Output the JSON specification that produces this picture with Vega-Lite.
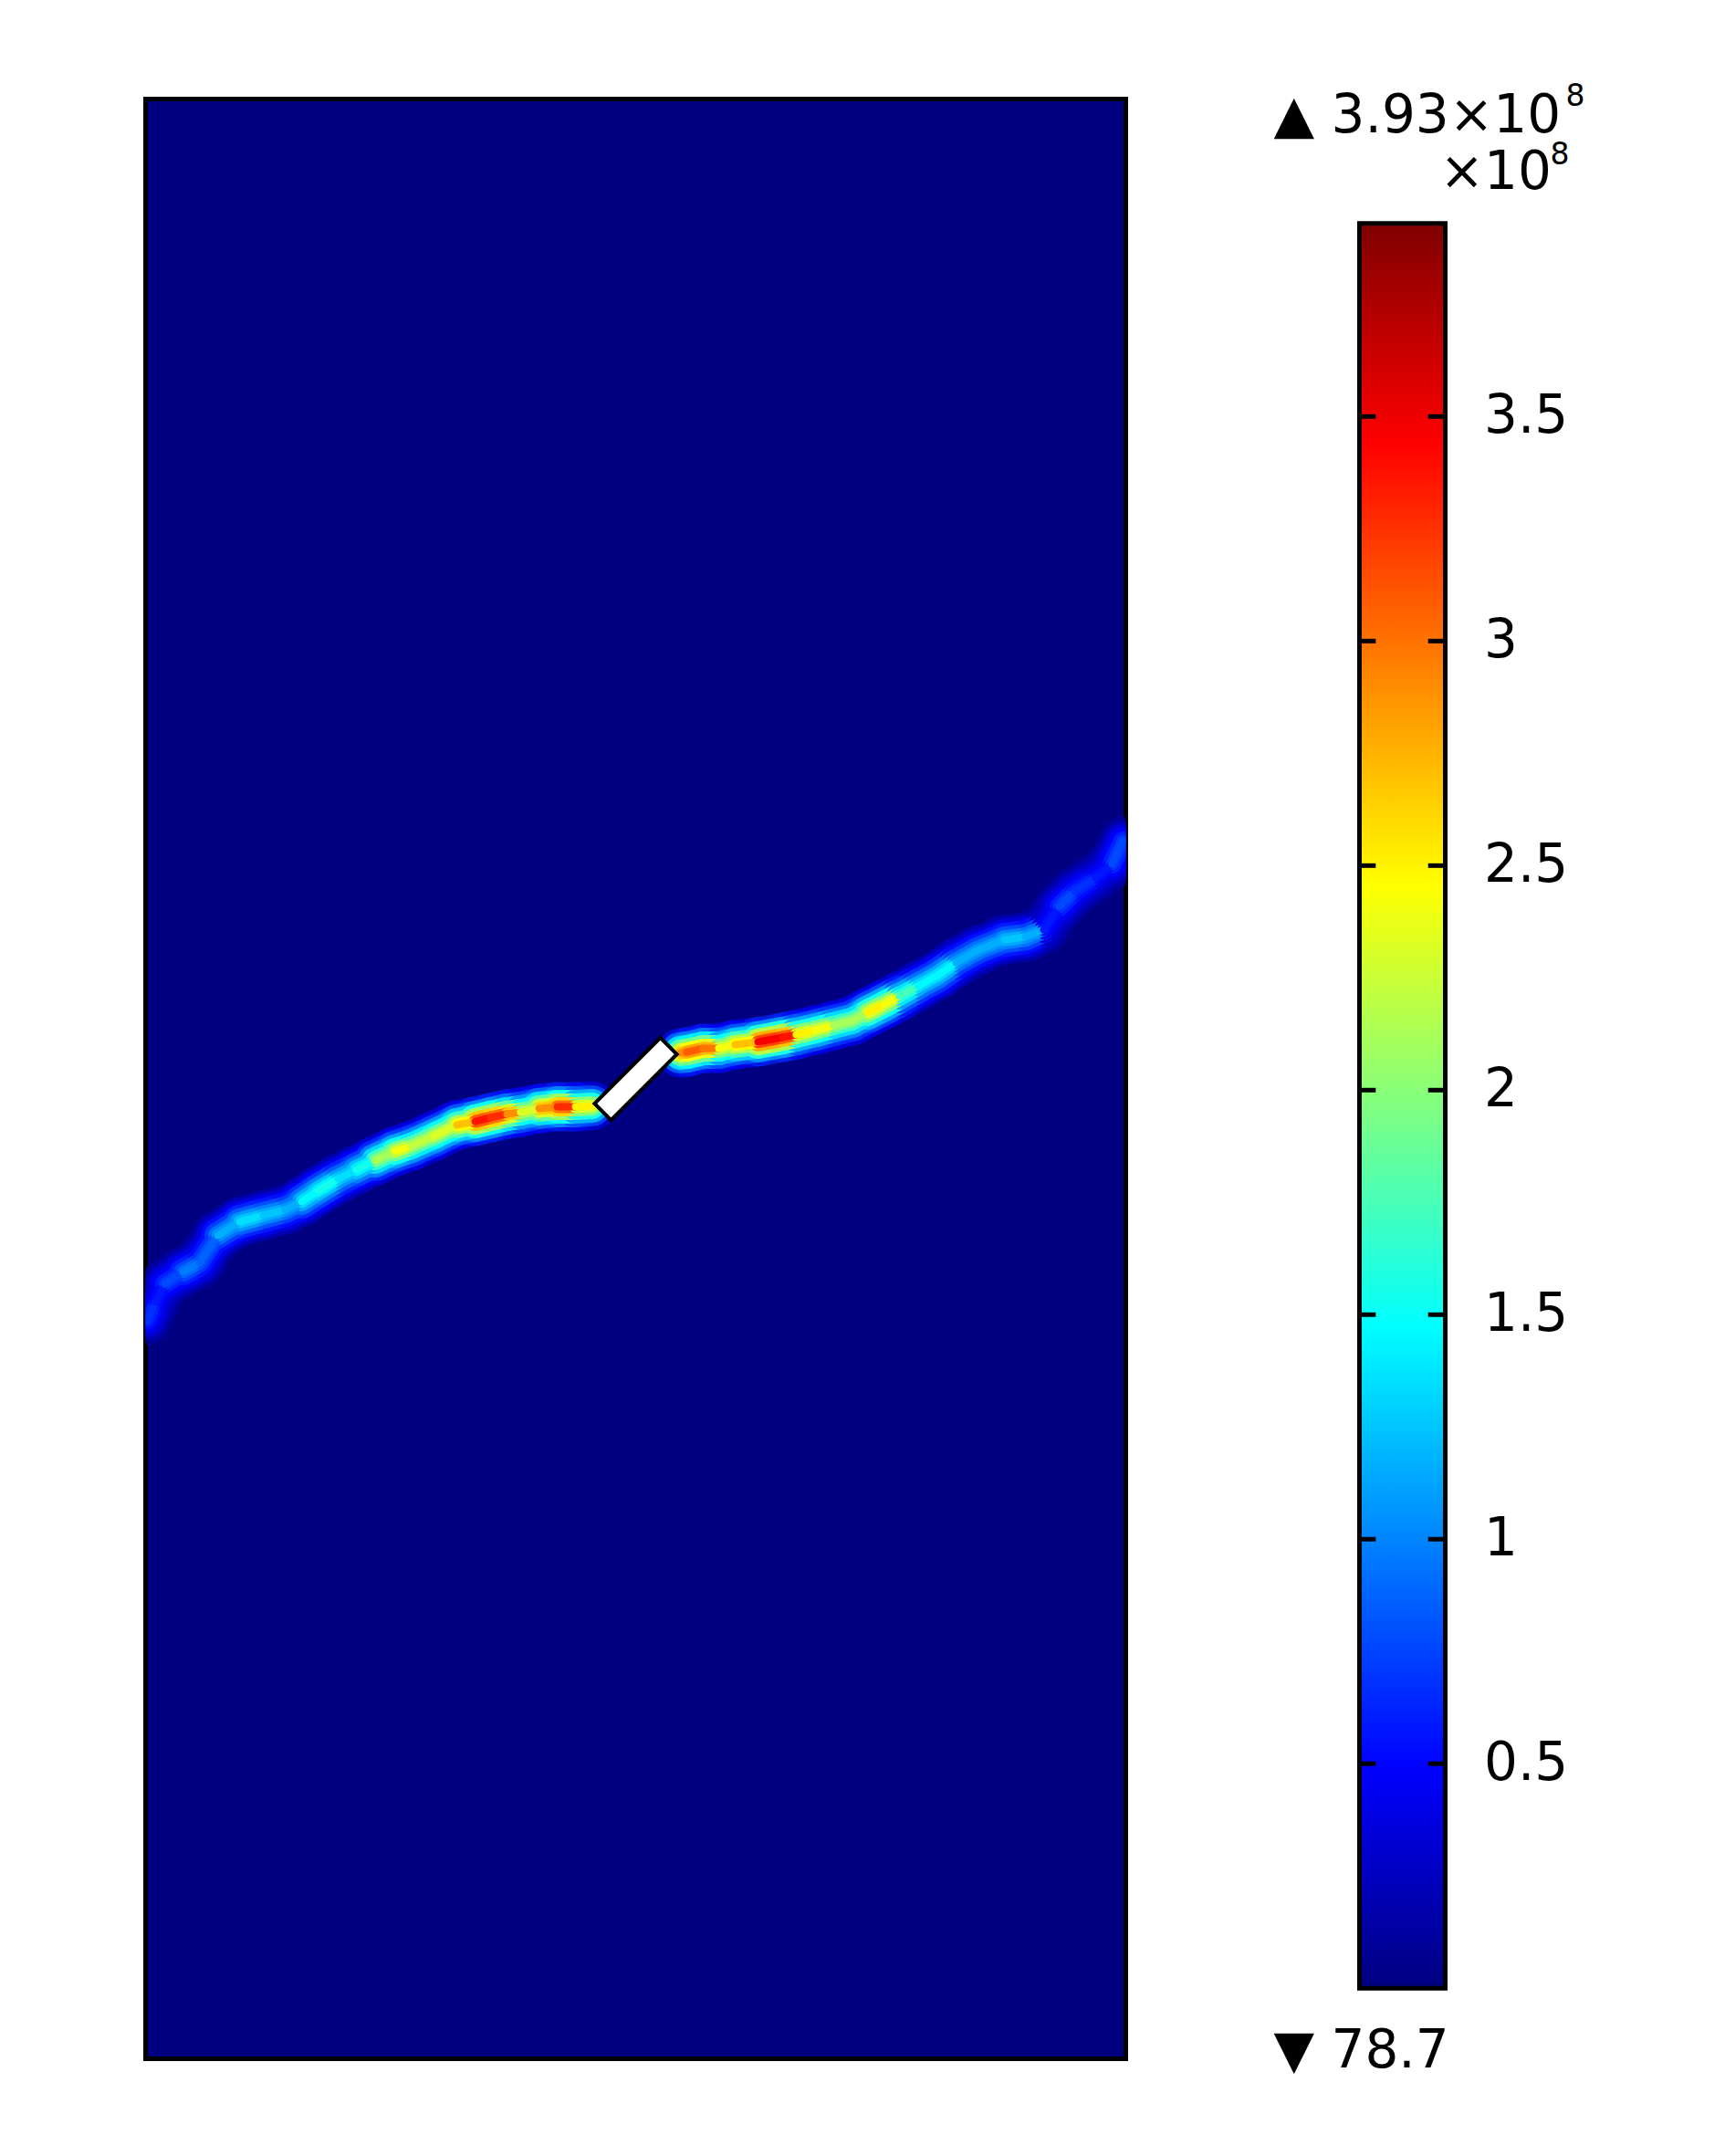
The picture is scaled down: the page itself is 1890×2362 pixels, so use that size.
{
  "$schema": "https://vega.github.io/schema/vega-lite/v6.json",
  "background": "white",
  "padding": {"left": 156.5, "top": 89.5, "right": 5, "bottom": 5},
  "autosize": {"type": "pad"},
  "config": {"view": {"stroke": null}, "font": "DejaVu Sans"},
  "datasets": {
    "crack": [
      {"x":0.09,"y":37.68,"x2":0.51,"y2":38.61,"v":0.7},
      {"x":0.51,"y":38.61,"x2":0.98,"y2":39.54,"v":0.6},
      {"x":0.98,"y":39.54,"x2":1.91,"y2":40.15,"v":0.8},
      {"x":1.91,"y":40.15,"x2":2.75,"y2":40.61,"v":1.0},
      {"x":2.75,"y":40.61,"x2":3.68,"y2":42.01,"v":0.9},
      {"x":3.68,"y":42.01,"x2":4.80,"y2":42.71,"v":1.2},
      {"x":4.80,"y":42.71,"x2":6.01,"y2":43.04,"v":1.4},
      {"x":6.01,"y":43.04,"x2":7.12,"y2":43.32,"v":1.3},
      {"x":7.12,"y":43.32,"x2":7.96,"y2":43.74,"v":1.2},
      {"x":7.96,"y":43.74,"x2":8.80,"y2":44.29,"v":1.5},
      {"x":8.80,"y":44.29,"x2":9.82,"y2":44.90,"v":1.6},
      {"x":9.82,"y":44.90,"x2":10.75,"y2":45.37,"v":1.4},
      {"x":10.75,"y":45.37,"x2":11.69,"y2":45.83,"v":1.6},
      {"x":11.69,"y":45.83,"x2":12.71,"y2":46.30,"v":2.2},
      {"x":12.71,"y":46.30,"x2":13.55,"y2":46.58,"v":2.5},
      {"x":13.55,"y":46.58,"x2":14.71,"y2":47.09,"v":2.3},
      {"x":14.71,"y":47.09,"x2":15.88,"y2":47.65,"v":2.4},
      {"x":15.88,"y":47.65,"x2":16.81,"y2":47.83,"v":2.8},
      {"x":16.81,"y":47.83,"x2":17.60,"y2":48.02,"v":3.5},
      {"x":17.60,"y":48.02,"x2":18.44,"y2":48.21,"v":3.4},
      {"x":18.44,"y":48.21,"x2":19.13,"y2":48.30,"v":3.0},
      {"x":19.13,"y":48.30,"x2":20.07,"y2":48.49,"v":2.4},
      {"x":20.07,"y":48.49,"x2":21.00,"y2":48.58,"v":3.0},
      {"x":21.00,"y":48.58,"x2":21.93,"y2":48.58,"v":3.4},
      {"x":21.93,"y":48.58,"x2":22.77,"y2":48.63,"v":2.6},
      {"x":27.28,"y":51.33,"x2":27.61,"y2":51.37,"v":3.0},
      {"x":27.61,"y":51.37,"x2":28.45,"y2":51.56,"v":3.2},
      {"x":28.45,"y":51.56,"x2":29.24,"y2":51.56,"v":3.1},
      {"x":29.24,"y":51.56,"x2":30.07,"y2":51.75,"v":2.5},
      {"x":30.07,"y":51.75,"x2":31.24,"y2":51.89,"v":2.8},
      {"x":31.24,"y":51.89,"x2":32.50,"y2":52.12,"v":3.6},
      {"x":32.50,"y":52.12,"x2":33.19,"y2":52.26,"v":3.5},
      {"x":33.19,"y":52.26,"x2":34.17,"y2":52.49,"v":2.6},
      {"x":34.17,"y":52.49,"x2":35.10,"y2":52.73,"v":2.5},
      {"x":35.10,"y":52.73,"x2":36.03,"y2":52.96,"v":2.2},
      {"x":36.03,"y":52.96,"x2":36.83,"y2":53.38,"v":2.2},
      {"x":36.83,"y":53.38,"x2":37.66,"y2":53.80,"v":2.6},
      {"x":37.66,"y":53.80,"x2":38.45,"y2":54.22,"v":2.5},
      {"x":38.45,"y":54.22,"x2":39.39,"y2":54.73,"v":1.8},
      {"x":39.39,"y":54.73,"x2":40.41,"y2":55.29,"v":1.5},
      {"x":40.41,"y":55.29,"x2":41.34,"y2":55.94,"v":1.5},
      {"x":41.34,"y":55.94,"x2":42.41,"y2":56.54,"v":1.2},
      {"x":42.41,"y":56.54,"x2":43.81,"y2":57.10,"v":1.2},
      {"x":43.81,"y":57.10,"x2":44.88,"y2":57.24,"v":1.3},
      {"x":44.88,"y":57.24,"x2":45.81,"y2":57.62,"v":1.2},
      {"x":45.81,"y":57.62,"x2":46.60,"y2":58.78,"v":0.6},
      {"x":46.60,"y":58.78,"x2":47.39,"y2":59.57,"v":0.8},
      {"x":47.39,"y":59.57,"x2":48.46,"y2":60.27,"v":0.7},
      {"x":48.46,"y":60.27,"x2":49.30,"y2":60.97,"v":0.6},
      {"x":49.30,"y":60.97,"x2":49.86,"y2":62.13,"v":0.8}
    ],
    "notch": [{"x": 25, "y": 50}],
    "range": [{"min": 0.000000787, "max": 3.93}],
    "ticks": [{"t":0.5},{"t":1},{"t":1.5},{"t":2},{"t":2.5},{"t":3},{"t":3.5}]
  },
  "bounds": "flush",
  "spacing": 256,
  "hconcat": [
    {
      "width": 1074,
      "height": 2147,
      "view": {"fill": "#000080", "stroke": "#000000", "strokeWidth": 5},
      "resolve": {"scale": {"color": "independent"}},
      "encoding": {
        "x": {"field": "x", "type": "quantitative", "scale": {"domain": [0, 50], "nice": false, "zero": false}, "axis": null},
        "y": {"field": "y", "type": "quantitative", "scale": {"domain": [0, 100], "nice": false, "zero": false}, "axis": null}
      },
      "layer": [
        {"data": {"name": "crack"},
         "mark": {"type": "rule", "strokeWidth": 54, "strokeCap": "round", "clip": true, "opacity": 0.6},
         "encoding": {"x2": {"field": "x2"}, "y2": {"field": "y2"},
           "color": {"field": "v", "type": "quantitative", "legend": null,
             "scale": {"domain": [0, 21.6], "interpolate": "rgb", "range": ["#000080","#0000ff","#0080ff","#00ffff","#80ff80","#ffff00","#ff8000","#ff0000","#800000"]}}}},
        {"data": {"name": "crack"},
         "mark": {"type": "rule", "strokeWidth": 45, "strokeCap": "round", "clip": true, "opacity": 0.8},
         "encoding": {"x2": {"field": "x2"}, "y2": {"field": "y2"},
           "color": {"field": "v", "type": "quantitative", "legend": null,
             "scale": {"domain": [0, 12.84], "interpolate": "rgb", "range": ["#000080","#0000ff","#0080ff","#00ffff","#80ff80","#ffff00","#ff8000","#ff0000","#800000"]}}}},
        {"data": {"name": "crack"},
         "mark": {"type": "rule", "strokeWidth": 37, "strokeCap": "round", "clip": true},
         "encoding": {"x2": {"field": "x2"}, "y2": {"field": "y2"},
           "color": {"field": "v", "type": "quantitative", "legend": null,
             "scale": {"domain": [0, 8.79], "interpolate": "rgb", "range": ["#000080","#0000ff","#0080ff","#00ffff","#80ff80","#ffff00","#ff8000","#ff0000","#800000"]}}}},
        {"data": {"name": "crack"},
         "mark": {"type": "rule", "strokeWidth": 29, "strokeCap": "round", "clip": true},
         "encoding": {"x2": {"field": "x2"}, "y2": {"field": "y2"},
           "color": {"field": "v", "type": "quantitative", "legend": null,
             "scale": {"domain": [0, 6.47], "interpolate": "rgb", "range": ["#000080","#0000ff","#0080ff","#00ffff","#80ff80","#ffff00","#ff8000","#ff0000","#800000"]}}}},
        {"data": {"name": "crack"},
         "mark": {"type": "rule", "strokeWidth": 21, "strokeCap": "round", "clip": true},
         "encoding": {"x2": {"field": "x2"}, "y2": {"field": "y2"},
           "color": {"field": "v", "type": "quantitative", "legend": null,
             "scale": {"domain": [0, 5.13], "interpolate": "rgb", "range": ["#000080","#0000ff","#0080ff","#00ffff","#80ff80","#ffff00","#ff8000","#ff0000","#800000"]}}}},
        {"data": {"name": "crack"},
         "mark": {"type": "rule", "strokeWidth": 14, "strokeCap": "round", "clip": true},
         "encoding": {"x2": {"field": "x2"}, "y2": {"field": "y2"},
           "color": {"field": "v", "type": "quantitative", "legend": null,
             "scale": {"domain": [0, 4.46], "interpolate": "rgb", "range": ["#000080","#0000ff","#0080ff","#00ffff","#80ff80","#ffff00","#ff8000","#ff0000","#800000"]}}}},
        {"data": {"name": "crack"},
         "mark": {"type": "rule", "strokeWidth": 8, "strokeCap": "round", "clip": true},
         "encoding": {"x2": {"field": "x2"}, "y2": {"field": "y2"},
           "color": {"field": "v", "type": "quantitative", "legend": null,
             "scale": {"domain": [0, 4.08], "interpolate": "rgb", "range": ["#000080","#0000ff","#0080ff","#00ffff","#80ff80","#ffff00","#ff8000","#ff0000","#800000"]}}}},
        {"data": {"name": "notch"},
         "mark": {"type": "point", "shape": "M-1,-0.25L1,-0.25L1,0.25L-1,0.25Z", "size": 10404, "angle": 315, "filled": true, "fill": "white", "stroke": "black", "strokeWidth": 4, "opacity": 1, "fillOpacity": 1}}
      ]
    },
    {
      "width": 94,
      "height": 2147,
      "view": {"stroke": null},
      "resolve": {"axis": {"y": "independent", "x": "independent"}},
      "layer": [
        {"data": {"name": "range"},
         "mark": {"type": "rect", "stroke": "black", "strokeWidth": 5,
           "fill": {"gradient": "linear", "x1": 0, "y1": 1, "x2": 0, "y2": 0,
             "stops": [
               {"offset": 0, "color": "#000080"}, {"offset": 0.125, "color": "#0000ff"},
               {"offset": 0.25, "color": "#0080ff"}, {"offset": 0.375, "color": "#00ffff"},
               {"offset": 0.5, "color": "#80ff80"}, {"offset": 0.625, "color": "#ffff00"},
               {"offset": 0.75, "color": "#ff8000"}, {"offset": 0.875, "color": "#ff0000"},
               {"offset": 1, "color": "#800000"}]}},
         "encoding": {
           "x": {"datum": 0, "type": "quantitative", "scale": {"domain": [0, 1], "nice": false, "zero": false}, "axis": null},
           "x2": {"datum": 1},
           "y": {"field": "min", "type": "quantitative", "scale": {"domain": [-0.157, 4.207], "nice": false, "zero": false}, "axis": null},
           "y2": {"field": "max"}}},
        {"data": {"name": "ticks"},
         "mark": {"type": "rule", "strokeWidth": 5, "color": "black"},
         "encoding": {
           "x": {"datum": 0, "type": "quantitative", "axis": null}, "x2": {"datum": 0.19},
           "y": {"field": "t", "type": "quantitative",
             "axis": {"orient": "right", "values": [0.5, 1, 1.5, 2, 2.5, 3, 3.5], "format": ".1~f", "domain": false, "ticks": false, "tickSize": 0, "grid": false, "title": null,
               "labelFont": "DejaVu Sans", "labelFontSize": 58, "labelColor": "black", "labelPadding": 42, "labelBaseline": "middle"}}}},
        {"data": {"name": "ticks"},
         "mark": {"type": "rule", "strokeWidth": 5, "color": "black"},
         "encoding": {
           "x": {"datum": 0.8, "type": "quantitative", "axis": null}, "x2": {"datum": 1},
           "y": {"field": "t", "type": "quantitative", "axis": null}}},
        {"data": {"values": [{}]},
         "mark": {"type": "text", "text": "▲ 3.93×10", "align": "left", "baseline": "alphabetic", "font": "DejaVu Sans", "fontSize": 58, "color": "black"},
         "encoding": {"x": {"datum": -1.0, "type": "quantitative", "axis": null}, "y": {"datum": 4.132, "type": "quantitative", "axis": null}}},
        {"data": {"values": [{}]},
         "mark": {"type": "text", "text": "8", "align": "left", "baseline": "alphabetic", "font": "DejaVu Sans", "fontSize": 33, "color": "black"},
         "encoding": {"x": {"datum": 2.404, "type": "quantitative", "axis": null}, "y": {"datum": 4.191, "type": "quantitative", "axis": null}}},
        {"data": {"values": [{}]},
         "mark": {"type": "text", "text": "×10", "align": "left", "baseline": "alphabetic", "font": "DejaVu Sans", "fontSize": 58, "color": "black"},
         "encoding": {"x": {"datum": 0.936, "type": "quantitative", "axis": null}, "y": {"datum": 4.006, "type": "quantitative", "axis": null}}},
        {"data": {"values": [{}]},
         "mark": {"type": "text", "text": "8", "align": "left", "baseline": "alphabetic", "font": "DejaVu Sans", "fontSize": 33, "color": "black"},
         "encoding": {"x": {"datum": 2.223, "type": "quantitative", "axis": null}, "y": {"datum": 4.061, "type": "quantitative", "axis": null}}},
        {"data": {"values": [{}]},
         "mark": {"type": "text", "text": "▼ 78.7", "align": "left", "baseline": "alphabetic", "font": "DejaVu Sans", "fontSize": 58, "color": "black"},
         "encoding": {"x": {"datum": -1.0, "type": "quantitative", "axis": null}, "y": {"datum": -0.1755, "type": "quantitative", "axis": null}}}
      ]
    }
  ]
}
